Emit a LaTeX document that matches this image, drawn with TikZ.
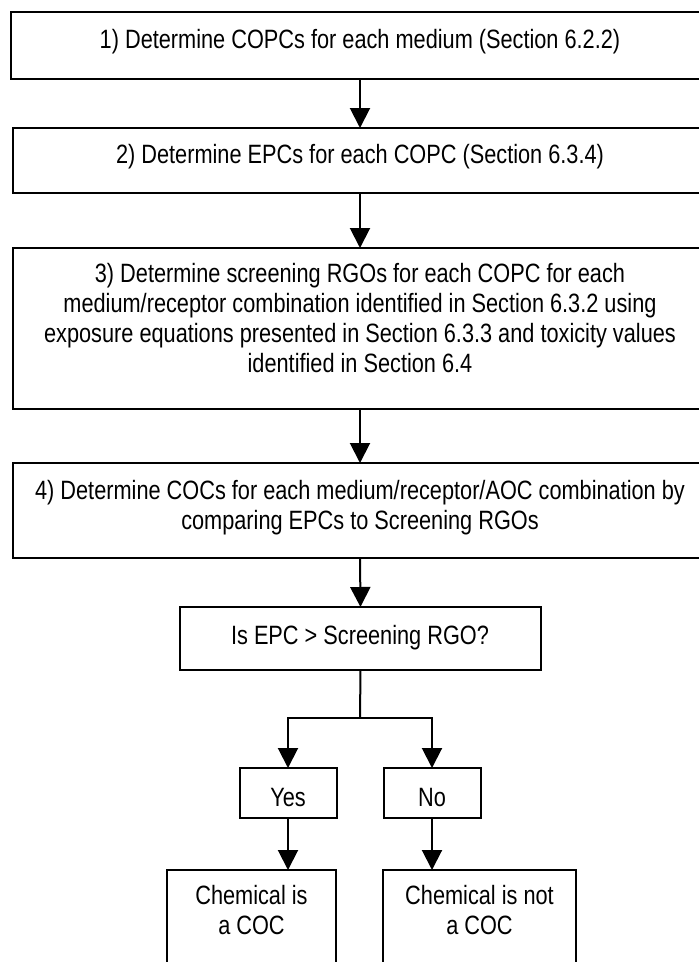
\documentclass[tikz,border=0pt]{standalone}
\usepackage{fontspec}
\setmainfont{Liberation Sans}[FakeStretch=0.82]
\usetikzlibrary{arrows.meta}
\begin{document}
\begin{tikzpicture}[x=1pt,y=-1pt,
  box/.style={draw, line width=2pt, inner sep=0pt, outer sep=0pt},
  label/.style={font=\fontsize{26.5}{30}\selectfont, align=center, inner sep=0pt},
  arr/.style={line width=2pt, -{Triangle[length=20pt,width=20pt]}},
  link/.style={line width=2pt}]
\useasboundingbox (0,0) rectangle (699,962);
\fill[white] (0,0) rectangle (699,962);
\clip (0,0) rectangle (699,962);
% boxes
\node[box, minimum width=698pt, minimum height=67pt] (b1) at (360,45.5) {};
\node[box, minimum width=694pt, minimum height=65pt] (b2) at (360,160.5) {};
\node[box, minimum width=694pt, minimum height=161pt] (b3) at (360,328.5) {};
\node[box, minimum width=694pt, minimum height=95pt] (b4) at (360,510.5) {};
\node[box, minimum width=361pt, minimum height=63pt] (dec) at (360.5,638.5) {};
\node[box, minimum width=97pt, minimum height=50pt] (yes) at (288,793) {};
\node[box, minimum width=97pt, minimum height=50pt] (no) at (432,793) {};
\node[box, minimum width=169pt, minimum height=140pt] (c1) at (251.5,940) {};
\node[box, minimum width=193pt, minimum height=140pt] (c2) at (479.5,940) {};
% texts
\node[label, anchor=base] (t1) at (360,48) {1) Determine COPCs for each medium (Section 6.2.2)};
\node[label, anchor=base] (t2) at (360,163) {2) Determine EPCs for each COPC (Section 6.3.4)};
\node[label] (t3) at (360,318.5) {3) Determine screening RGOs for each COPC for each\\medium/receptor combination identified in Section 6.3.2 using\\exposure equations presented in Section 6.3.3 and toxicity values\\identified in Section 6.4};
\node[label] (t4) at (360,508) {4) Determine COCs for each medium/receptor/AOC combination by\\comparing EPCs to Screening RGOs};
\node[label, anchor=base] (td) at (360,644) {Is EPC > Screening RGO?};
\node[label, anchor=base] (ty) at (288,806) {Yes};
\node[label, anchor=base] (tn) at (432,806) {No};
\node[label] (tc1) at (251.5,910) {Chemical is\\a COC};
\node[label] (tc2) at (479.5,910) {Chemical is not\\a COC};
% connectors
\coordinate (split) at (360,718);
\coordinate (sl) at (288,718);
\coordinate (sr) at (432,718);
\draw[arr] (b1.south) -- (b2.north);
\draw[arr] (b2.south) -- (b3.north);
\draw[arr] (b3.south) -- (b4.north);
\draw[arr] (b4.south) -- (dec.north);
\draw[link] (dec.south) -- (split);
\draw[link, line cap=rect] (sl) -- (sr);
\draw[arr] (sl) -- (yes.north);
\draw[arr] (sr) -- (no.north);
\draw[arr] (yes.south) -- (yes.south |- c1.north);
\draw[arr] (no.south) -- (no.south |- c2.north);
\end{tikzpicture}
\end{document}
